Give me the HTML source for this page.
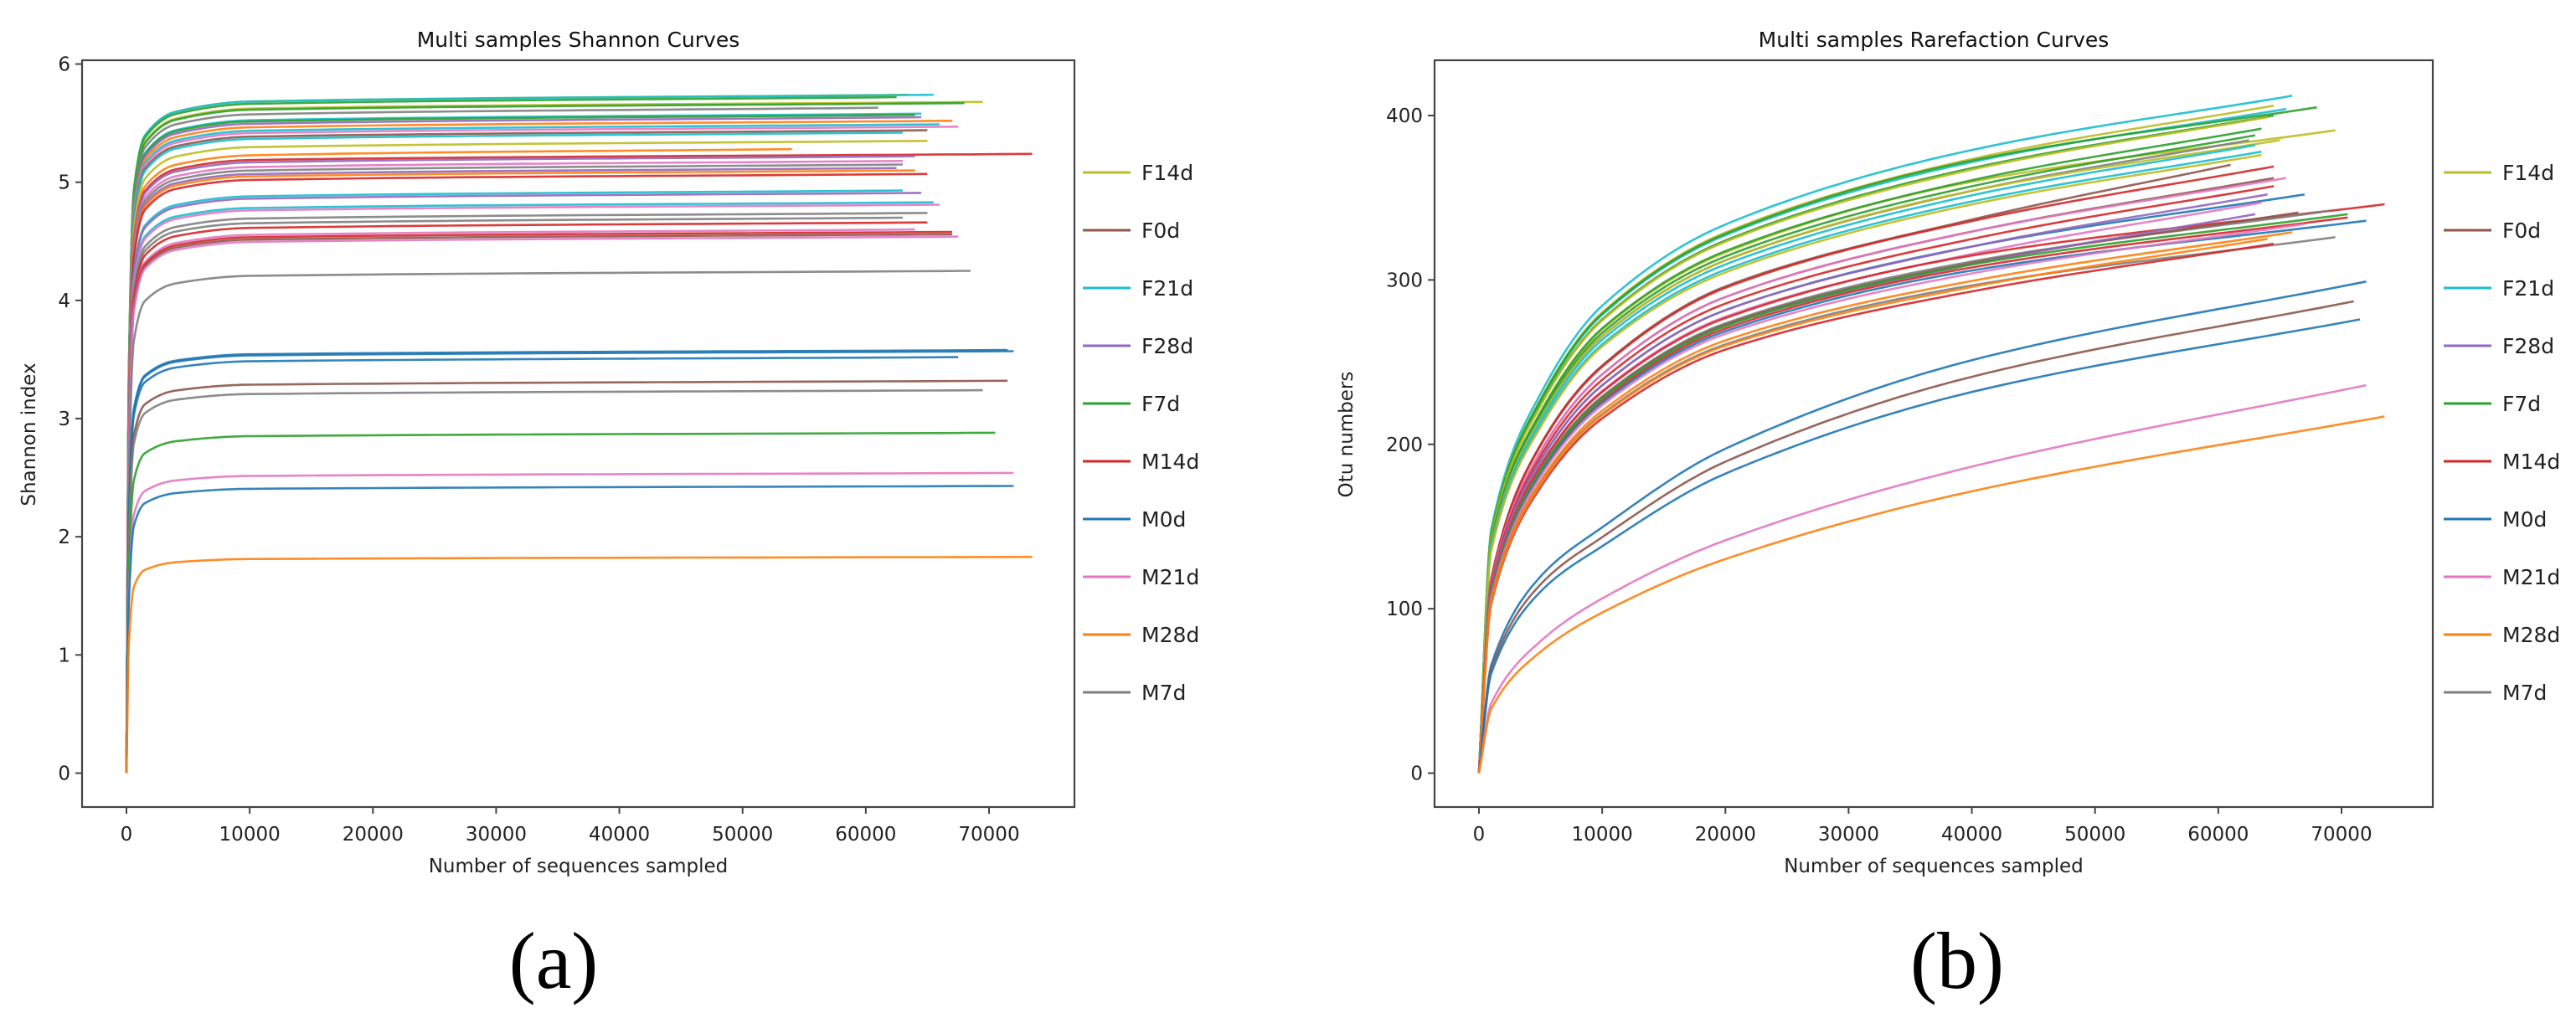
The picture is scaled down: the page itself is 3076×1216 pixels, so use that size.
<!DOCTYPE html>
<html><head><meta charset="utf-8"><style>
html,body{margin:0;padding:0;background:#fff;}
svg{display:block;font-family:"DejaVu Sans","Liberation Sans",sans-serif;}
</style></head><body>
<svg id="fig" width="3076" height="1216" viewBox="0 0 3076 1216" xmlns="http://www.w3.org/2000/svg"></svg>
<script>
// ---- shared legend ----
const groupNames = ["F14d","F0d","F21d","F28d","F7d","M14d","M0d","M21d","M28d","M7d"];
const groupColors = ["#bcbd22","#8c564b","#17becf","#9467bd","#2ca02c","#d62728","#1f77b4","#e377c2","#ff7f0e","#7f7f7f"];

// ---- Shannon chart data ----
const shXTicks = [0,10000,20000,30000,40000,50000,60000,70000];
const shYTicks = [0,1,2,3,4,5,6];
const shGridX = [0,200,600,1500,4000,10000];
const shShape = [0,0.60,0.86,0.94,0.975,0.99];
const shGroup = [0,2,4,0,4,9,2,4,3,8,2,7,1,2,0,8,5,3,7,9,3,8,5,2,3,2,7,9,9,5,7,5,1,7,9,6,6,6,1,9,4,7,6,8];
const shFinal = [5.74,5.74,5.72,5.68,5.67,5.63,5.58,5.57,5.55,5.52,5.49,5.47,5.44,5.42,5.35,5.28,5.24,5.22,5.18,5.15,5.12,5.10,5.07,4.93,4.91,4.83,4.81,4.74,4.70,4.66,4.60,4.58,4.56,4.54,4.25,3.58,3.57,3.52,3.32,3.24,2.88,2.54,2.43,1.83];
const shEnd = [63500,65500,62500,69500,68000,61000,64500,64000,64500,67000,66000,67500,65000,63000,65000,54000,73500,64000,63000,63000,62500,64000,65000,63000,64500,65500,66000,65000,63000,65000,64000,67000,67000,67500,68500,71500,72000,67500,71500,69500,70500,72000,72000,73500];

// ---- Rarefaction chart data ----
const rfXTicks = [0,10000,20000,30000,40000,50000,60000,70000];
const rfYTicks = [0,100,200,300,400];
const rfGridX = [0,1000,5000,10000,20000,40000];
const rfShapes = [
  [0,0.36,0.56,0.69,0.81,0.92],
  [0,0.32,0.54,0.67,0.80,0.91],
  [0,0.22,0.40,0.50,0.66,0.84],
  [0,0.18,0.34,0.45,0.60,0.79]
];
const rfGroup = [2,0,2,4,4,0,0,4,4,9,0,2,2,0,1,5,1,7,5,6,3,7,5,9,1,3,5,4,6,7,8,9,5,8,6,1,6,7,8];
const rfFinal = [412,406,404,405,400,399,391,392,388,385,385,382,378,376,370,369,362,362,357,352,352,347,346,342,341,340,338,340,336,334,329,326,322,325,299,287,276,236,217];
const rfEnd = [66000,64500,65500,68000,64500,64000,69500,63500,63000,62500,65000,63000,63500,63500,61000,64500,64500,65500,64500,67000,64000,63500,73500,69000,66500,63000,70500,70500,72000,67000,66000,69500,64500,64000,72000,71000,71500,72000,73500];
const rfShapeIdx = [0,0,0,0,0,0,0,0,0,0,0,0,0,0,1,1,1,1,1,1,1,1,1,1,1,1,1,1,1,1,1,1,1,1,2,2,2,3,3];

const NS = "http://www.w3.org/2000/svg";
const svg = document.getElementById('fig');
function el(tag, attrs, parent){
  const e = document.createElementNS(NS, tag);
  for (const k in attrs) e.setAttribute(k, attrs[k]);
  (parent||svg).appendChild(e);
  return e;
}
function monotone(xs, ys, n){
  const m = xs.length, d = [], t = [];
  for (let i=0;i<m-1;i++) d.push((ys[i+1]-ys[i])/(xs[i+1]-xs[i]));
  t[0]=d[0]; t[m-1]=d[m-2];
  for (let i=1;i<m-1;i++){ t[i] = (d[i-1]*d[i]<=0)?0:(2/(1/d[i-1]+1/d[i])); }
  const pts=[];
  for (let i=0;i<m-1;i++){
    const h=xs[i+1]-xs[i];
    for (let k=0;k<n;k++){
      const s=k/n, s2=s*s, s3=s2*s;
      const y=(2*s3-3*s2+1)*ys[i]+(s3-2*s2+s)*h*t[i]+(-2*s3+3*s2)*ys[i+1]+(s3-s2)*h*t[i+1];
      pts.push([xs[i]+s*h, y]);
    }
  }
  pts.push([xs[m-1], ys[m-1]]);
  return pts;
}

function drawChart(cfg){
  const g = el('g', {});
  
  
  const X = v => cfg.x0 + (v-cfg.xmin)/(cfg.xmax-cfg.xmin)*(cfg.x1-cfg.x0);
  const Y = v => cfg.y0 - (v-cfg.ymin)/(cfg.ymax-cfg.ymin)*(cfg.y0-cfg.y1);
  const sg = el('g', {fill:'none','stroke-width':2.6,'stroke-linejoin':'round'}, g);
  
  
  for (let i=0;i<cfg.finals.length;i++){
    const shape = cfg.shapeFor(i);
    const xs = cfg.gridX.concat([cfg.ends[i]]);
    const ys = shape.map(f=>f*cfg.finals[i]).concat([cfg.finals[i]]);
    const pts = monotone(xs, ys, 24);
    const p = el('path', {d: 'M'+pts.map(q=>X(q[0]).toFixed(1)+','+Y(q[1]).toFixed(1)).join('L'), stroke: groupColors[cfg.groups[i]], 'stroke-opacity':0.9}, sg);
    
    
  }
  const fr = el('rect', {x:cfg.px0, y:cfg.py0, width:cfg.px1-cfg.px0, height:cfg.py1-cfg.py0, fill:'none', stroke:'#444', 'stroke-width':2.2}, g);
  
  
  cfg.xticks.forEach(v=>{
    const t = el('line', {x1:X(v), x2:X(v), y1:cfg.py1, y2:cfg.py1+8, stroke:'#444','stroke-width':2}, g);
    
    
    const tx = el('text', {x:X(v), y:cfg.py1+40, 'font-size':23, 'text-anchor':'middle', fill:'#222'}, g);
    tx.textContent = v;
    
    
  });
  cfg.yticks.forEach(v=>{
    const t = el('line', {x1:cfg.px0-8, x2:cfg.px0, y1:Y(v), y2:Y(v), stroke:'#444','stroke-width':2}, g);
    
    
    const tx = el('text', {x:cfg.px0-14, y:Y(v)+8, 'font-size':23, 'text-anchor':'end', fill:'#222'}, g);
    tx.textContent = v;
    
    
  });
  const tt = el('text', {x:(cfg.px0+cfg.px1)/2, y:56, 'font-size':25, 'text-anchor':'middle', fill:'#111'}, g);
  tt.textContent = cfg.title;
  
  
  const xl = el('text', {x:(cfg.px0+cfg.px1)/2, y:1042, 'font-size':23, 'text-anchor':'middle', fill:'#222'}, g);
  xl.textContent = 'Number of sequences sampled';
  
  
  const yl = el('text', {x:cfg.ylx, y:519, 'font-size':23, 'text-anchor':'middle', fill:'#222', transform:'rotate(-90 '+cfg.ylx+' 519)'}, g);
  yl.textContent = cfg.ytitle;
  
  
  const lg = el('g', {}, g);
  
  
  groupNames.forEach((n,i)=>{
    const y = 206 + i*69;
    const ln = el('line', {x1:cfg.lx, x2:cfg.lx+57, y1:y, y2:y, stroke:groupColors[i], 'stroke-width':3}, lg);
    
    
    const tx = el('text', {x:cfg.lx+70, y:y+9, 'font-size':25, fill:'#222'}, lg);
    tx.textContent = n;
    
    
  });
  const pl = el('text', {x:cfg.panelX, y:1180, 'font-size':96, 'text-anchor':'middle', fill:'#000', 'font-family':'"Liberation Serif", serif'}, g);
  pl.textContent = cfg.panel;
  
  
}

drawChart({name:'shannon-chart', title:'Multi samples Shannon Curves', ytitle:'Shannon index', panel:'(a)', panelX:661,
  px0:98, px1:1283, py0:72, py1:964, x0:151, x1:1181, xmin:0, xmax:70000, y0:923.5, y1:76.5, ymin:0, ymax:6,
  xticks:shXTicks, yticks:shYTicks, gridX:shGridX, shapeFor:i=>shShape, finals:shFinal, ends:shEnd, groups:shGroup,
  lx:1293, ylx:42});
drawChart({name:'rarefaction-chart', title:'Multi samples Rarefaction Curves', ytitle:'Otu numbers', panel:'(b)', panelX:2337,
  px0:1713, px1:2905, py0:72, py1:964, x0:1766, x1:2796, xmin:0, xmax:70000, y0:923.5, y1:138, ymin:0, ymax:400,
  xticks:rfXTicks, yticks:rfYTicks, gridX:rfGridX, shapeFor:i=>rfShapes[rfShapeIdx[i]], finals:rfFinal, ends:rfEnd, groups:rfGroup,
  lx:2918, ylx:1615});
</script>
</body></html>
